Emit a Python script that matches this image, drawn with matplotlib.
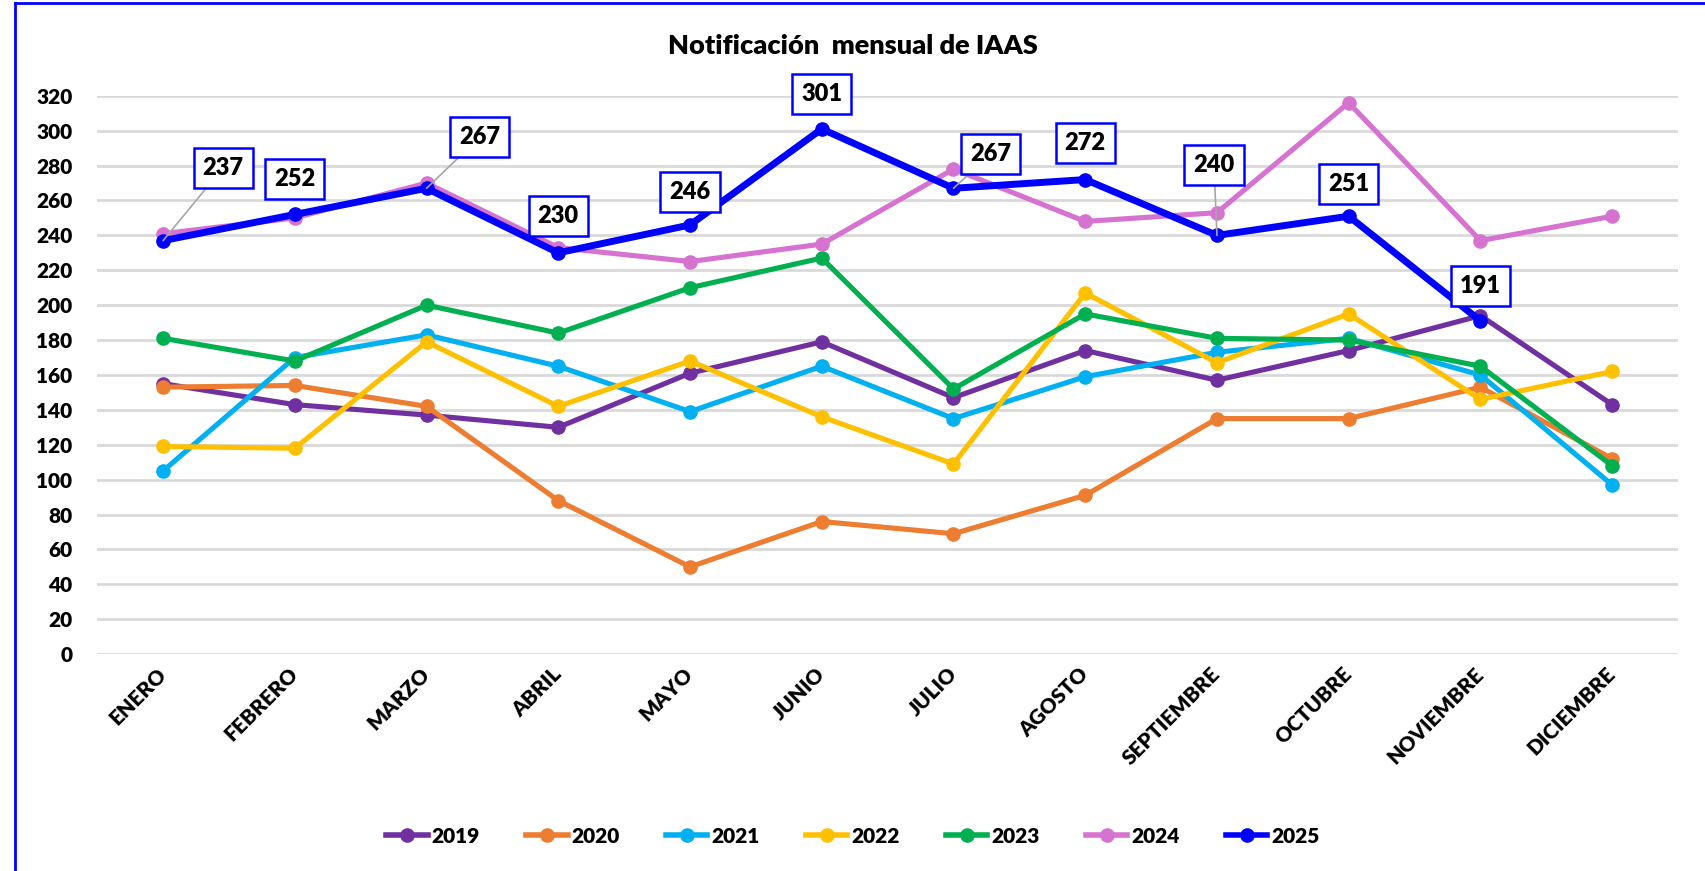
import matplotlib
matplotlib.use('Agg')
import matplotlib.pyplot as plt
import numpy as np
from matplotlib.lines import Line2D

plt.rcParams['font.family'] = ['Lato', 'DejaVu Sans']
plt.rcParams['font.weight'] = 'heavy'

# datos
meses = ['ENERO', 'FEBRERO', 'MARZO', 'ABRIL', 'MAYO', 'JUNIO', 'JULIO',
         'AGOSTO', 'SEPTIEMBRE', 'OCTUBRE', 'NOVIEMBRE', 'DICIEMBRE']
anios = ['2019', '2020', '2021', '2022', '2023', '2024', '2025']

v2019 = [155, 143, 137, 130, 161, 179, 147, 174, 157, 174, 194, 143]
v2020 = [153, 154, 142, 88, 50, 76, 69, 91, 135, 135, 153, 112]
v2021 = [105, 170, 183, 165, 139, 165, 135, 159, 173, 181, 160, 97]
v2022 = [119, 118, 179, 142, 168, 136, 109, 207, 167, 195, 146, 162]
v2023 = [181, 168, 200, 184, 210, 227, 152, 195, 181, 180, 165, 108]
v2024 = [241, 250, 270, 233, 225, 235, 278, 248, 253, 316, 237, 251]
v2025 = [237, 252, 267, 230, 246, 301, 267, 272, 240, 251, 191]

series = [v2019, v2020, v2021, v2022, v2023, v2024, v2025]
colores = ['#7030A0', '#ED7D31', '#00B0F0', '#FFC000', '#00B050', '#D672CF', '#0000FF']

fig = plt.figure(figsize=(17.06, 8.71), dpi=100)
ax = fig.add_axes([0.057, 0.249, 0.9266, 0.641])

x = np.arange(len(meses))
for anio, vals, c in zip(anios, series, colores):
    lw = 5.0 if anio == '2025' else 3.7
    ax.plot(x[:len(vals)], vals, color=c, lw=lw, marker='o', ms=9.5,
            label=anio, solid_capstyle='round', clip_on=False, zorder=3)

# etiquetas de 2025 (desplazamiento en píxeles)
offsets = [(60, 73), (0, 35), (53, 51), (0, 37), (0, 33), (0, 35),
           (37, 34), (0, 37), (-3, 70), (0, 32), (0, 35)]
guias = [0, 2, 6, 8]
for i, (val, off) in enumerate(zip(v2025, offsets)):
    kw = {}
    if i in guias:
        kw['arrowprops'] = dict(arrowstyle='-', color='#A6A6A6', lw=1.2,
                                shrinkA=0, shrinkB=0)
    ax.annotate(str(val), xy=(i, val), xytext=off, textcoords='offset pixels',
                ha='center', va='center', fontsize=17, fontweight='heavy',
                color='black', zorder=5,
                bbox=dict(boxstyle='square,pad=0.38', fc='white', ec='#0000FF', lw=1.8),
                **kw)

ax.set_xlim(-0.5, 11.5)
ax.set_ylim(0, 320)
ax.set_yticks(np.arange(0, 321, 20))
ax.grid(axis='y', color='#D9D9D9', lw=2)
ax.set_axisbelow(True)
for s in ax.spines.values():
    s.set_visible(False)
ax.tick_params(length=0)
ax.tick_params(axis='y', pad=18, labelsize=15)
ax.tick_params(axis='x', pad=12, labelsize=15)
ax.set_xticks(x)
ax.set_xticklabels(meses, rotation=45, ha='right', va='center', rotation_mode='anchor')
for t in ax.get_yticklabels() + ax.get_xticklabels():
    t.set_fontweight('heavy')

fig.text(0.5, 0.9475, 'Notificación  mensual de IAAS', ha='center', va='center',
         fontsize=19.5, fontweight='heavy')

handles = [Line2D([], [], color=c, lw=4, marker='o', ms=9.5) for c in colores]
fig.legend(handles, anios, loc='center', bbox_to_anchor=(0.5, 0.04), ncol=7,
           frameon=False, prop={'size': 15, 'weight': 'heavy'},
           handlelength=2.0, handletextpad=0.2, columnspacing=2.2)

# marco azul
fig.add_artist(Line2D([0.009, 1.0], [0.996, 0.996], color='#0000FF', lw=2,
                      transform=fig.transFigure))
fig.add_artist(Line2D([0.009, 0.009], [0.0, 0.996], color='#0000FF', lw=2,
                      transform=fig.transFigure))

plt.savefig('out.png', dpi=100)
plt.close()
